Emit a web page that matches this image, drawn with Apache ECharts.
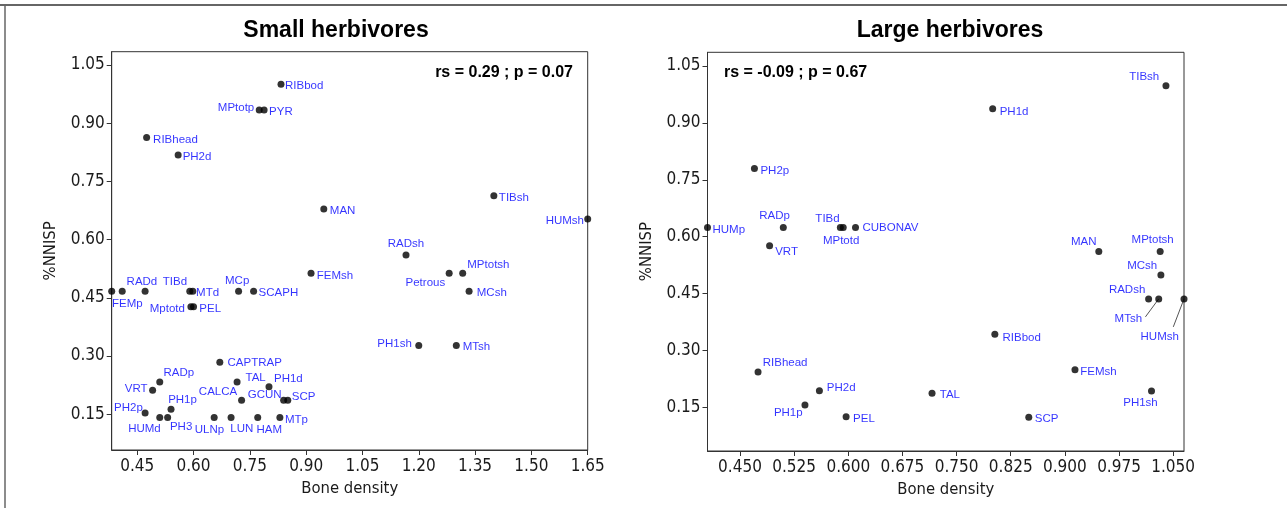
<!DOCTYPE html>
<html><head><meta charset="utf-8">
<script src="https://cdn.jsdelivr.net/npm/echarts@6/dist/echarts.min.js"></script>
<style>html,body{margin:0;padding:0;background:#fff}#c{width:1287px;height:508px}</style>
</head><body><div id="c"></div>
<script>
// ---------- data ----------
const smallNames   = ['RIBbod','MPtotp','PYR','RIBhead','PH2d','MAN','TIBsh','HUMsh','RADsh','Petrous','MPtotsh','MCsh','FEMsh','FEMp','RADd','','TIBd','MTd','Mptotd','PEL','MCp','SCAPH','PH1sh','MTsh','CAPTRAP','RADp','VRT','TAL','PH1d','CALCA','GCUN','SCP','PH1p','PH2p','HUMd','PH3','ULNp','LUN','HAM','MTp'];
const smallDensity = [0.833,0.775,0.788,0.475,0.559,0.947,1.400,1.650,1.166,1.281,1.317,1.334,0.913,0.382,0.410,0.471,0.590,0.598,0.593,0.600,0.720,0.760,1.200,1.300,0.670,0.510,0.491,0.716,0.801,0.728,0.840,0.851,0.540,0.471,0.510,0.531,0.655,0.700,0.771,0.830];
const smallNNISP   = [1.000,0.934,0.934,0.863,0.818,0.679,0.713,0.653,0.560,0.513,0.513,0.467,0.513,0.467,0.467,0.467,0.467,0.467,0.427,0.427,0.467,0.467,0.327,0.327,0.284,0.233,0.212,0.233,0.221,0.186,0.186,0.186,0.163,0.153,0.142,0.142,0.142,0.142,0.142,0.142];

const largeNames   = ['TIBsh','PH1d','PH2p','HUMp','RADp','VRT','TIBd','MPtotd','CUBONAV','MAN','MPtotsh','MCsh','RADsh','MTsh','HUMsh','RIBbod','RIBhead','FEMsh','PH2d','PH1sh','TAL','PH1p','PEL','SCP'];
const largeDensity = [1.040,0.800,0.470,0.405,0.510,0.491,0.589,0.593,0.610,0.947,1.032,1.033,1.016,1.030,1.065,0.803,0.475,0.914,0.560,1.020,0.716,0.540,0.597,0.850];
const largeNNISP   = [0.998,0.937,0.780,0.624,0.624,0.576,0.624,0.624,0.624,0.561,0.561,0.499,0.436,0.436,0.436,0.343,0.243,0.249,0.194,0.193,0.187,0.156,0.125,0.124];

const smallXTicks = ['0.45','0.60','0.75','0.90','1.05','1.20','1.35','1.50','1.65'];
const largeXTicks = ['0.450','0.525','0.600','0.675','0.750','0.825','0.900','0.975','1.050'];
const yTicks      = ['0.15','0.30','0.45','0.60','0.75','0.90','1.05'];
const panelTitles = ['Small herbivores','Large herbivores'];
const statTexts   = ['rs = 0.29 ; p = 0.07','rs = -0.09 ; p = 0.67'];
const xTitle = 'Bone density';
const yTitle = '%NNISP';

// ---------- label placement (layout only) ----------
const smallLabelPlace = {
 RIBbod:['left',4,2], MPtotp:['right',-5,-2], PYR:['left',5,1.5], RIBhead:['left',6.5,2.5], PH2d:['left',4.5,2.3],
 MAN:['left',6,2], TIBsh:['left',5,2], HUMsh:['right',-3.7,1.7], RADsh:['center',0,-11.7], Petrous:['right',-4,9],
 MPtotsh:['left',4.6,-8.6], MCsh:['left',7.7,1.4], FEMsh:['left',5.7,2], FEMp:['center',15.7,13], RADd:['center',19.7,-9.3],
 TIBd:['right',-2.7,-9.3], MTd:['left',3.3,2], Mptotd:['right',-6,1.7], PEL:['left',5.8,2.3], MCp:['center',-1.4,-10.6],
 SCAPH:['left',5,1.4], PH1sh:['right',-7,-1.7], MTsh:['left',6.4,1.3], CAPTRAP:['left',7.7,1], RADp:['center',19,-9.7],
 VRT:['right',-5,-1], TAL:['left',8.4,-4], PH1d:['left',5,-7.4], CALCA:['right',-4.4,-8], GCUN:['right',-2,-5], SCP:['left',4,-3],
 PH1p:['center',11.5,-9.3], PH2p:['right',-2.3,-5.6], HUMd:['center',-15.3,11], PH3:['left',2.3,9.4], ULNp:['center',-4.8,12],
 LUN:['center',10.7,11], HAM:['center',11.6,12], MTp:['left',5,2]
};
const largeLabelPlace = {
 TIBsh:['right',-6.7,-9], PH1d:['left',7,2.7], PH2p:['left',6,2.4], HUMp:['left',5,2.3], RADp:['center',-8.8,-11.7],
 VRT:['left',5.6,6], TIBd:['right',-0.7,-9], MPtotd:['center',-2.1,13], CUBONAV:['left',7,0], MAN:['right',-2.3,-9.3],
 MPtotsh:['center',-7.5,-11.3], MCsh:['right',-3.7,-9], RADsh:['right',-3.3,-8.7], MTsh:['right',-16.7,19.6],
 HUMsh:['center',-24.3,38], RIBbod:['left',7.7,3.3], RIBhead:['left',4.7,-9.3], FEMsh:['left',5.3,2.3], PH2d:['left',7.4,-2.4],
 PH1sh:['center',-11,11.7], TAL:['left',7.7,1.7], PH1p:['right',-2.3,7.7], PEL:['left',7,1.6], SCP:['left',6,1.3]
};
const largeLeaders = {MTsh:[-13.3,18], HUMsh:[-10.7,28]};

// ---------- styles ----------
const NARROW = "'Liberation Sans Narrow','Arial Narrow','DejaVu Sans Condensed',sans-serif";
const SANS = "'Liberation Sans',Arial,sans-serif";
const AX = '#333';
const LABEL_BLUE = '#0000ff';

function pts(names, xs, ys, place) {
  return names.map((n, i) => {
    const p = place[n];
    return {
      name: n, value: [xs[i], ys[i]],
      label: p ? {show: true, position: 'inside', align: p[0], verticalAlign: 'middle', offset: [p[1], p[2]]} : {show: false}
    };
  });
}
function tickFmt(ticks) {
  return v => { const t = ticks.find(s => Math.abs(Number(s) - v) < 1e-6); return t === undefined ? '' : t; };
}
function xAxis(idx, min, max, ticks) {
  const vals = ticks.map(Number);
  return {
    type: 'value', gridIndex: idx, min, max, position: 'bottom',
    name: xTitle, nameLocation: 'middle', nameGap: 30,
    nameTextStyle: {fontFamily: NARROW, fontSize: 16.5, color: '#1a1a1a', verticalAlign: 'top'},
    axisLine: {show: true, onZero: false, lineStyle: {color: AX, width: 1}},
    axisTick: {show: true, length: 5, lineStyle: {color: AX}, customValues: vals},
    axisLabel: {show: true, margin: 8, fontFamily: NARROW, fontSize: 17, color: '#1a1a1a', customValues: vals, formatter: tickFmt(ticks)},
    splitLine: {show: false}
  };
}
function yAxis(idx, min, max, ticks) {
  const vals = ticks.map(Number);
  return {
    type: 'value', gridIndex: idx, min, max, position: 'left',
    name: yTitle, nameLocation: 'middle', nameGap: 52,
    nameTextStyle: {fontFamily: NARROW, fontSize: 16.5, color: '#1a1a1a'},
    axisLine: {show: true, onZero: false, lineStyle: {color: AX, width: 1}},
    axisTick: {show: true, length: 5, lineStyle: {color: AX}, customValues: vals},
    axisLabel: {show: true, margin: 7, fontFamily: NARROW, fontSize: 17, color: '#1a1a1a', customValues: vals, formatter: tickFmt(ticks)},
    splitLine: {show: false}
  };
}
function scatter(idx, data) {
  return {
    type: 'scatter', xAxisIndex: idx, yAxisIndex: idx, data, symbol: 'circle', symbolSize: 7, clip: false,
    itemStyle: {color: '#000'},
    label: {formatter: '{b}', fontFamily: SANS, fontSize: 11.5, color: LABEL_BLUE},
    emphasis: {disabled: true}, silent: true, z: 3
  };
}

const leaderIdx = largeNames.map((n, i) => largeLeaders[n] ? i : -1).filter(i => i >= 0);
const leaderData = leaderIdx.map(i => ({name: largeNames[i], value: [largeDensity[i], largeNNISP[i]]}));

const option = {
  animation: false,
  backgroundColor: '#fff',
  grid: [
    {left: 111.7, top: 51.7, right: 1287 - 587.7, bottom: 508 - 450, show: true, borderColor: AX, borderWidth: 1, containLabel: false, outerBoundsMode: 'none'},
    {left: 707.5, top: 52.3, right: 1287 - 1184, bottom: 508 - 451, show: true, borderColor: AX, borderWidth: 1, containLabel: false, outerBoundsMode: 'none'}
  ],
  xAxis: [xAxis(0, 0.382, 1.65, smallXTicks), xAxis(1, 0.405, 1.065, largeXTicks)],
  yAxis: [yAxis(0, 0.058, 1.084, yTicks), yAxis(1, 0.035, 1.086, yTicks)],
  series: [
    scatter(0, pts(smallNames, smallDensity, smallNNISP, smallLabelPlace)),
    scatter(1, pts(largeNames, largeDensity, largeNNISP, largeLabelPlace)),
    {
      type: 'custom', xAxisIndex: 1, yAxisIndex: 1, data: leaderData, silent: true, z: 2, clip: false,
      renderItem: (params, api) => {
        const p = api.coord([api.value(0), api.value(1)]);
        const off = largeLeaders[leaderData[params.dataIndex].name];
        return {type: 'line', shape: {x1: p[0], y1: p[1], x2: p[0] + off[0], y2: p[1] + off[1]}, style: {stroke: '#555', lineWidth: 1}};
      }
    }
  ],
  graphic: [
    {type: 'line', shape: {x1: 0, y1: 5, x2: 1287, y2: 5}, style: {stroke: '#666', lineWidth: 2}},
    {type: 'line', shape: {x1: 5, y1: 5, x2: 5, y2: 508}, style: {stroke: '#666', lineWidth: 1.5}},
    {type: 'text', x: 336, y: 31, style: {text: panelTitles[0], font: 'bold 23px ' + SANS, align: 'center', verticalAlign: 'middle', fill: '#000'}},
    {type: 'text', x: 950, y: 31, style: {text: panelTitles[1], font: 'bold 23px ' + SANS, align: 'center', verticalAlign: 'middle', fill: '#000'}},
    {type: 'text', x: 573, y: 73, style: {text: statTexts[0], font: 'bold 16px ' + SANS, align: 'right', verticalAlign: 'middle', fill: '#000'}},
    {type: 'text', x: 724, y: 73, style: {text: statTexts[1], font: 'bold 16px ' + SANS, align: 'left', verticalAlign: 'middle', fill: '#000'}}
  ]
};
const chart = echarts.init(document.getElementById('c'), null, {renderer: 'canvas'});
chart.setOption(option);
</script>
</body></html>
